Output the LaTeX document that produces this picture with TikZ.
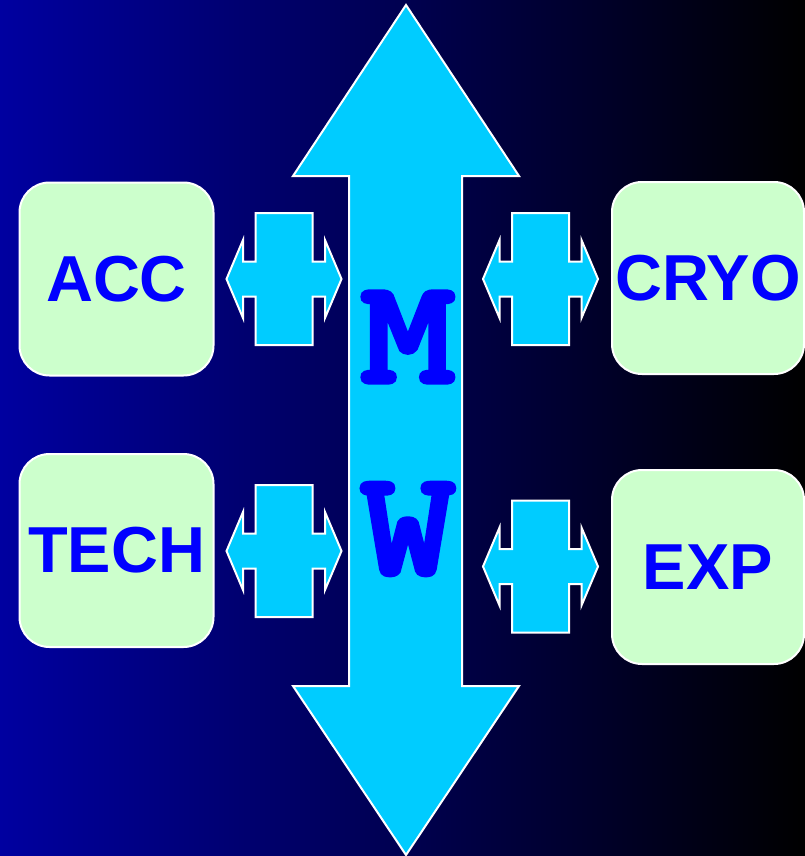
\documentclass[tikz,border=0pt]{standalone}
\usepackage{fontspec}
\setmainfont{Liberation Sans}
\newfontfamily\mwfont[FakeBold=2.5]{lmmonolt10-bold.otf}
\definecolor{cyanA}{RGB}{0,204,255}
\definecolor{boxg}{RGB}{204,255,204}
\definecolor{txtb}{RGB}{0,0,255}
\definecolor{bgl}{RGB}{0,0,160}
\begin{document}
\begin{tikzpicture}[x=1pt,y=-1pt,
  box/.style={draw=white, line width=2pt, fill=boxg, rounded corners=30pt,
    minimum width=194pt, minimum height=193pt, inner sep=0pt, text=txtb,
    font=\fontsize{65}{65}\selectfont\bfseries},
  shapearrow/.style={fill=cyanA, draw=white, line width=2pt, line join=miter},
  letter/.style={text=txtb, font=\mwfont\fontsize{150}{150}\selectfont, inner sep=0pt},
  xconn/.pic={
    \path[shapearrow] (-57.5,0) -- (-41,-39) -- (-41,-17.5) -- (-28.5,-17.5) -- (-28.5,-66)
      -- (28.5,-66) -- (28.5,-17.5) -- (41,-17.5) -- (41,-39) -- (57.5,0) -- (41,39)
      -- (41,17.5) -- (28.5,17.5) -- (28.5,66) -- (-28.5,66) -- (-28.5,17.5)
      -- (-41,17.5) -- (-41,39) -- cycle;
  }
]
\useasboundingbox (0,0) rectangle (805,856);
\shade[left color=bgl, right color=black] (0,0) rectangle (805,856);

% central double arrow
\path[shapearrow] (406,5) -- (519,176) -- (462,176) -- (462,686) -- (519,686) -- (406,855)
  -- (293,686) -- (349,686) -- (349,176) -- (293,176) -- cycle;

\node[letter] (M) at (408,337) {\scalebox{1.22}[1]{M}};
\node[letter] (W) at (408,529) {\scalebox{1.22}[1]{W}};

% boxes
\node[box] (acc) at (116.5,279) {ACC};
\node[box] (tech) at (116.5,550.5) {TECH};
\node[box, minimum width=192pt, minimum height=192pt] (cryo) at (708,278) {CRYO};
\node[box, minimum width=192pt, minimum height=194pt] (exp) at (708,567) {EXP};

% cross connectors
\pic at (284,279) {xconn};
\pic at (284,551) {xconn};
\pic at (540.5,279) {xconn};
\pic at (540.5,566.5) {xconn};
\end{tikzpicture}
\end{document}
